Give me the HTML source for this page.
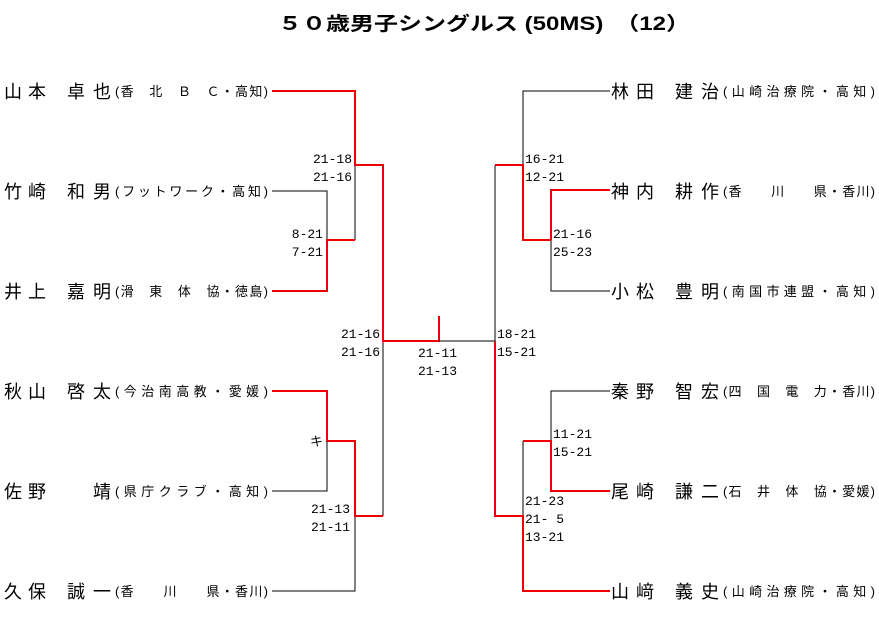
<!DOCTYPE html>
<html><head><meta charset="utf-8"><style>
body{margin:0;background:#fff;width:879px;height:617px;overflow:hidden}
svg{display:block}
text{font-family:"Liberation Sans","Noto Sans CJK JP",sans-serif;fill:#000}
.n text{font-size:18px}
.a text{font-size:13px}
.s text{font-size:13px;font-family:"Liberation Mono","Noto Sans CJK JP",monospace}
</style></head><body>
<svg width="879" height="617" xmlns="http://www.w3.org/2000/svg">
<text x="278" y="30" textLength="412" lengthAdjust="spacingAndGlyphs" style="font-size:19px;font-weight:bold">５０歳男子シングルス (50MS)　（12）</text>
<g fill="none" stroke-width="1">
<path d="M355 165V240M272 191H327V240M383 341V516M327 441V491H272M355 516V591H272" stroke="#000"/>
<path d="M272 91H355V165H383V341H439V316M272 291H327V240H355M272 391H327V441H355V516H383" stroke="#e00" stroke-width="2"/>
<path d="M439 341H495V165M610 91H523V165M551 240V291H610M610 391H551V441M523 441V516" stroke="#000"/>
<path d="M495 341V516H523V591H610M495 165H523V240H551M610 190H551V240M523 441H551V491H610" stroke="#e00" stroke-width="2"/>
</g>
<g class="n">
<text x="4" y="98">山</text><text x="28" y="98">本</text><text x="67" y="98">卓</text><text x="93" y="98">也</text>
<text x="4" y="198">竹</text><text x="28" y="198">崎</text><text x="67" y="198">和</text><text x="93" y="198">男</text>
<text x="4" y="298">井</text><text x="28" y="298">上</text><text x="67" y="298">嘉</text><text x="93" y="298">明</text>
<text x="4" y="398">秋</text><text x="28" y="398">山</text><text x="67" y="398">啓</text><text x="93" y="398">太</text>
<text x="4" y="498">佐</text><text x="28" y="498">野</text><text x="93" y="498">靖</text>
<text x="4" y="598">久</text><text x="28" y="598">保</text><text x="67" y="598">誠</text><text x="93" y="598">一</text>
<text x="611" y="98">林</text><text x="636" y="98">田</text><text x="675" y="98">建</text><text x="701" y="98">治</text>
<text x="611" y="198">神</text><text x="636" y="198">内</text><text x="675" y="198">耕</text><text x="701" y="198">作</text>
<text x="611" y="298">小</text><text x="636" y="298">松</text><text x="675" y="298">豊</text><text x="701" y="298">明</text>
<text x="611" y="398">秦</text><text x="636" y="398">野</text><text x="675" y="398">智</text><text x="701" y="398">宏</text>
<text x="611" y="498">尾</text><text x="636" y="498">崎</text><text x="675" y="498">謙</text><text x="701" y="498">二</text>
<text x="611" y="598">山</text><text x="636" y="598">﨑</text><text x="675" y="598">義</text><text x="701" y="598">史</text>
</g>
<g class="a">
<text x="115" y="96" textLength="153" lengthAdjust="spacing">(香　北　Ｂ　Ｃ・高知)</text>
<text x="115" y="196" textLength="153" lengthAdjust="spacing">(フットワーク・高知)</text>
<text x="115" y="296" textLength="153" lengthAdjust="spacing">(滑　東　体　協・徳島)</text>
<text x="115" y="396" textLength="153" lengthAdjust="spacing">(今治南高教・愛媛)</text>
<text x="115" y="496" textLength="153" lengthAdjust="spacing">(県庁クラブ・高知)</text>
<text x="115" y="596" textLength="153" lengthAdjust="spacing">(香　　川　　県・香川)</text>
<text x="723" y="96" textLength="152" lengthAdjust="spacing">(山崎治療院・高知)</text>
<text x="723" y="196" textLength="152" lengthAdjust="spacing">(香　　川　　県・香川)</text>
<text x="723" y="296" textLength="152" lengthAdjust="spacing">(南国市連盟・高知)</text>
<text x="723" y="396" textLength="152" lengthAdjust="spacing">(四　国　電　力・香川)</text>
<text x="723" y="496" textLength="152" lengthAdjust="spacing">(石　井　体　協・愛媛)</text>
<text x="723" y="596" textLength="152" lengthAdjust="spacing">(山崎治療院・高知)</text>
</g>
<g class="s" text-anchor="end">
<text x="352" y="163">21-18</text><text x="352" y="181">21-16</text>
<text x="323" y="238">8-21</text><text x="323" y="256">7-21</text>
<text x="380" y="338">21-16</text><text x="380" y="356">21-16</text>
<text x="323" y="446">キ</text>
<text x="350" y="513">21-13</text><text x="350" y="531">21-11</text>
</g>
<g class="s">
<text x="418" y="357">21-11</text><text x="418" y="375">21-13</text>
<text x="525" y="163">16-21</text><text x="525" y="181">12-21</text>
<text x="553" y="238">21-16</text><text x="553" y="256">25-23</text>
<text x="497" y="338">18-21</text><text x="497" y="356">15-21</text>
<text x="553" y="438">11-21</text><text x="553" y="456">15-21</text>
<text x="525" y="505">21-23</text><text x="525" y="523">21- 5</text><text x="525" y="541">13-21</text>
</g>
</svg>
</body></html>
